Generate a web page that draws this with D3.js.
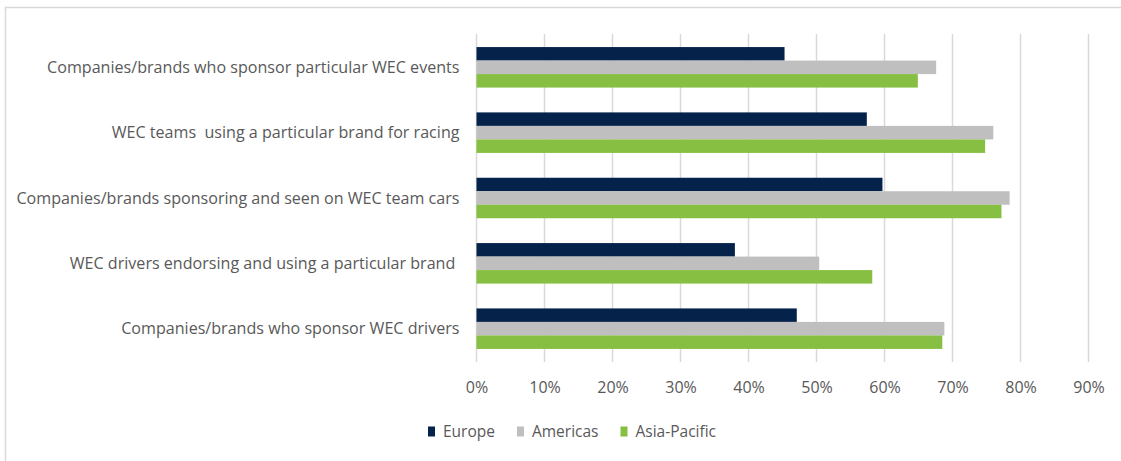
<!DOCTYPE html>
<html>
<head>
<meta charset="utf-8">
<script src="https://cdn.jsdelivr.net/npm/d3@7"></script>
<style>
  html, body { margin: 0; padding: 0; background: #fff; }
  svg { display: block; font-family: "Open Sans", "Noto Sans", sans-serif; }
</style>
</head>
<body>
<div id="chart"></div>
<script>
const categories = [
    'Companies/brands who sponsor particular WEC events',
    'WEC teams  using a particular brand for racing',
    'Companies/brands sponsoring and seen on WEC team cars',
    'WEC drivers endorsing and using a particular brand ',
    'Companies/brands who sponsor WEC drivers'
];
const seriesNames = ['Europe', 'Americas', 'Asia-Pacific'];
const europe = [0.453, 0.574, 0.597, 0.380, 0.471];
const americas = [0.676, 0.760, 0.784, 0.504, 0.688];
const asiaPacific = [0.649, 0.748, 0.772, 0.582, 0.685];
const xTicks = [0, 0.1, 0.2, 0.3, 0.4, 0.5, 0.6, 0.7, 0.8, 0.9];

const seriesValues = [europe, americas, asiaPacific];
const colors = ['#05234a', '#bfbfbf', '#86bf42'];
const textColor = '#595959';
const gridColor = '#d9d9d9';

const width = 1121;
const height = 461;
const plot = { left: 476.5, right: 1088.5, top: 34, bottom: 362 };

const svg = d3.select('#chart')
    .append('svg')
    .attr('width', width)
    .attr('height', height);

svg.append('rect')
    .attr('width', width)
    .attr('height', height)
    .attr('fill', '#fff');

// outer chart border (right and bottom fall outside the crop)
svg.append('rect')
    .attr('x', 5.5)
    .attr('y', 7.5)
    .attr('width', width + 20)
    .attr('height', height + 20)
    .attr('fill', 'none')
    .attr('stroke', gridColor)
    .attr('stroke-width', 1.5);

const x = d3.scaleLinear()
    .domain([0, 0.9])
    .range([plot.left, plot.right]);

const y = d3.scaleBand()
    .domain(categories)
    .range([plot.top, plot.bottom])
    .paddingInner(0.38)
    .paddingOuter(0.2);

const ySeries = d3.scaleBand()
    .domain(seriesNames)
    .range([0, y.bandwidth()]);

// gridlines
svg.append('g')
    .selectAll('line')
    .data(xTicks)
    .enter()
    .append('line')
    .attr('x1', d => x(d))
    .attr('x2', d => x(d))
    .attr('y1', plot.top)
    .attr('y2', plot.bottom)
    .attr('stroke', gridColor)
    .attr('stroke-width', 1.5);

// bars
const rows = categories.map((c, i) => ({
    category: c,
    values: seriesNames.map((s, j) => ({ series: s, value: seriesValues[j][i], color: colors[j] }))
}));

const group = svg.append('g')
    .selectAll('g')
    .data(rows)
    .enter()
    .append('g')
    .attr('transform', d => `translate(0, ${y(d.category)})`);

group.selectAll('rect')
    .data(d => d.values)
    .enter()
    .append('rect')
    .attr('x', x(0))
    .attr('y', d => ySeries(d.series))
    .attr('width', d => x(d.value) - x(0))
    .attr('height', ySeries.bandwidth())
    .attr('fill', d => d.color);

// x axis labels
const xAxis = svg.append('g')
    .attr('transform', `translate(0, ${plot.bottom + 25})`)
    .call(d3.axisBottom(x)
        .tickValues(xTicks)
        .tickSize(0)
        .tickFormat(d3.format('.0%')));

xAxis.select('.domain').remove();
xAxis.selectAll('text')
    .attr('y', 0)
    .attr('dy', '0.35em')
    .style('font-size', '16px')
    .style('font-family', '"Open Sans", "Noto Sans", sans-serif')
    .attr('fill', textColor);

// category labels
const yAxis = svg.append('g')
    .attr('transform', `translate(${plot.left - 17}, 0)`)
    .call(d3.axisLeft(y).tickSize(0).tickPadding(0));

yAxis.select('.domain').remove();
yAxis.selectAll('text')
    .attr('dy', '0.35em')
    .style('white-space', 'pre')
    .style('font-size', '16.1px')
    .style('font-family', '"Open Sans", "Noto Sans", sans-serif')
    .attr('fill', textColor);

// legend
const legend = svg.append('g')
    .attr('transform', 'translate(428, 432)');

let cursor = 0;
seriesNames.forEach((name, i) => {
    const item = legend.append('g')
        .attr('transform', `translate(${cursor}, 0)`);

    item.append('rect')
        .attr('x', 0)
        .attr('y', -5.5)
        .attr('width', 7)
        .attr('height', 10)
        .attr('fill', colors[i]);

    const label = item.append('text')
        .attr('x', 15)
        .attr('dy', '0.35em')
        .style('font-size', '15.5px')
        .attr('fill', textColor)
        .text(name);

    cursor += 15 + label.node().getComputedTextLength() + 22;
});
</script>
</body>
</html>
